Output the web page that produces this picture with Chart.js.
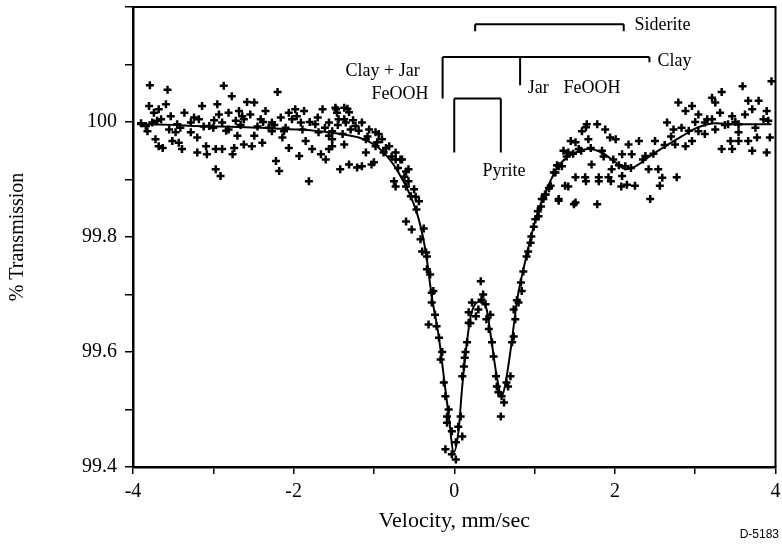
<!DOCTYPE html>
<html>
<head>
<meta charset="utf-8">
<script src="https://cdn.jsdelivr.net/npm/chart.js@4.4.0/dist/chart.umd.min.js"></script>
<style>
  html, body { margin: 0; padding: 0; background: #fff; }
</style>
</head>
<body>
<canvas id="spectrum" width="782" height="545"></canvas>
<script>
// measured spectrum (velocity mm/s, % transmission)
const scatterVel = [
  -3.79, -3.57, -2.87, -2.77, -2.20, -3.80, -3.59, -3.68, -3.74, -3.36, -3.14, -2.95, -2.93, -2.81, -2.68, -2.58,
  -2.49, -2.64, -2.54, -2.35, -2.06, -1.98, -1.87, -1.64, -1.48, -1.33, -1.46, -1.37, -3.84, -3.76, -3.65, -3.53,
  -3.45, -3.28, -3.18, -3.05, -2.89, -2.72, -2.62, -2.41, -2.27, -2.16, -2.02, -1.91, -1.73, -1.56, -1.29, -3.82,
  -3.72, -3.63, -3.68, -3.51, -3.43, -3.39, -3.47, -3.28, -3.20, -3.20, -3.09, -3.08, -2.97, -2.89, -2.74, -2.76,
  -2.70, -2.62, -2.52, -2.39, -2.49, -2.27, -2.14, -2.06, -2.12, -1.85, -1.93, -1.77, -1.66, -1.60, -1.52, -1.56,
  -1.37, -2.22, -2.18, -2.97, -2.91, -1.81, -1.42, -1.31, -1.21, -3.55, -3.00, -2.81, -2.31, -1.89, -1.69, -1.52,
  -1.39, -1.47, -1.37, -1.31, -1.44, -1.35, -1.23, -1.15, -1.06, -0.98, -0.90, -0.81, -0.73, -0.65, -1.15, -0.57,
  -1.52, -1.56, -0.94, -1.10, -1.10, -0.98, -0.88, -0.78, -0.73, -0.67, -1.00, -0.75, -0.73, -0.60, -0.57, -0.50,
  -0.54, -0.44, -0.47, -0.60, -0.53, -0.42, -0.40, -0.34, -0.34, -0.26, -0.28, -0.32, -0.22, -0.19, -0.17, -0.13,
  -0.11, -0.09, -0.09, -0.03, -0.11, 0.02, 0.10, 0.02, -0.03, 0.08, 0.10, 0.12, 0.14, 0.16, 0.18, 0.18,
  0.22, 0.27, 0.30, 0.33, 0.34, 0.40, 0.39, 0.45, 0.47, 0.49, 0.52, 0.53, 0.59, 0.62, 0.58, 0.65,
  0.70, 0.72, 0.74, 0.76, 0.74, 0.80, 0.84, 0.83, 0.86, 0.90, 0.95, 0.96, 0.99, 1.01, 1.08, 1.11,
  1.14, -1.03, -0.60, -0.35, -0.28, 1.26, 1.30, 1.51, 1.64, 1.80, 1.95, 2.08, 1.42, 1.05, 1.64, 1.42,
  1.34, 1.51, 1.09, 1.13, 1.20, 1.24, 1.30, 1.36, 1.45, 1.55, 1.59, 1.65, 1.78, 1.67, 1.88, 1.94,
  2.01, 1.30, 1.49, 1.78, 1.38, 1.51, 1.63, 1.80, 1.92, 1.71, 1.84, 1.96, 2.09, 2.13, 2.15, 2.25,
  2.30, 2.38, 2.50, 2.42, 2.54, 2.59, 2.56, 2.44, 2.77, 2.65, 2.73, 2.83, 2.75, 2.88, 2.96, 2.79,
  2.88, 2.96, 3.04, 3.12, 3.21, 3.31, 3.21, 3.33, 3.25, 3.04, 3.12, 3.25, 3.41, 3.54, 3.62, 3.71,
  3.79, 3.66, 3.59, 3.89, 3.91, 3.46, 3.54, 3.33, 3.44, 3.46, 3.54, 3.66, 3.71, 3.77, 3.89, 3.93,
  3.95, 2.17, 2.09, 2.21,
  -3.90, -3.70, -3.41, -3.24, -3.12, -2.99, -2.84, -2.66, -2.45, -2.38, -2.24, -2.10, -1.96, -1.80, -1.70, -1.61,
  -1.45, -1.26, -1.19, -1.08, -0.96, -0.85, -0.70, -0.62, -0.48, -0.38, -0.30, -0.24, -0.15, -0.07, 0.05, 0.13,
  0.20, 0.36, 0.43, 0.55, 0.67, 0.78, 0.92, 1.04, 1.18, 1.28, 1.40, 1.48, 1.58, 1.70, 1.86, 1.98,
  2.05, 2.20, 2.35, 2.48, 2.62, 2.70, 2.92, 3.00, 3.15, 3.37, 3.50, 3.75, 3.85
];
const scatterTrans = [
  100.064, 100.056, 100.063, 100.045, 100.052, 100.028, 100.031, 100.022, 100.016, 100.016, 100.028, 100.031, 100.013, 100.016, 100.019, 100.035,
  100.034, 100.010, 100.013, 100.019, 100.016, 100.022, 100.019, 100.022, 100.025, 100.023, 100.016, 100.005, 99.993, 99.999, 100.005, 100.010,
  99.996, 99.999, 100.005, 99.993, 99.999, 100.002, 100.005, 100.005, 99.999, 100.008, 100.005, 99.999, 99.996, 99.999, 99.987, 99.984,
  99.970, 99.955, 99.958, 99.967, 99.964, 99.953, 99.982, 99.982, 99.973, 99.947, 99.958, 99.944, 99.953, 99.953, 99.955, 99.944,
  99.976, 99.961, 99.958, 99.964, 99.976, 99.984, 99.973, 99.955, 99.984, 99.967, 99.941, 99.953, 99.944, 99.935, 99.958, 99.976,
  99.961, 99.932, 99.915, 99.918, 99.906, 99.897, 99.918, 99.926, 99.921, 99.987, 99.990, 99.987, 99.990, 99.987, 99.982, 99.984,
  99.979, 100.022, 100.025, 100.017, 100.005, 99.999, 99.993, 99.999, 99.987, 99.982, 99.970, 99.958, 99.947, 99.935, 99.923, 99.918,
  99.970, 99.953, 99.979, 99.970, 99.947, 99.958, 99.947, 99.940, 99.935, 99.935, 99.930, 99.897, 99.888, 99.914, 99.897, 99.883,
  99.871, 99.862, 99.848, 99.827, 99.813, 99.796, 99.775, 99.766, 99.744, 99.706, 99.686, 99.648, 99.645, 99.625, 99.587, 99.547,
  99.523, 99.488, 99.477, 99.462, 99.431, 99.443, 99.453, 99.413, 99.422, 99.488, 99.558, 99.575, 99.600, 99.617, 99.651, 99.669,
  99.686, 99.662, 99.674, 99.723, 99.691, 99.657, 99.683, 99.665, 99.617, 99.592, 99.558, 99.540, 99.523, 99.512, 99.488, 99.547,
  99.558, 99.617, 99.627, 99.657, 99.674, 99.686, 99.706, 99.721, 99.740, 99.766, 99.790, 99.801, 99.818, 99.831, 99.853, 99.866,
  99.874, 99.926, 99.888, 99.773, 99.703, 99.912, 99.866, 99.860, 99.897, 99.897, 99.897, 99.888, 99.888, 99.836, 99.991, 99.947,
  99.923, 99.965, 99.866, 99.874, 99.889, 99.912, 99.923, 99.950, 99.967, 99.953, 99.984, 99.996, 99.996, 99.970, 99.987, 99.973,
  99.970, 99.863, 99.857, 99.857, 99.889, 99.904, 99.904, 99.904, 99.904, 99.926, 99.950, 99.918, 99.906, 99.923, 99.891, 99.889,
  99.967, 99.941, 99.967, 99.918, 99.918, 99.903, 99.889, 99.866, 99.904, 99.999, 99.987, 99.990, 99.961, 99.958, 99.967, 100.034,
  100.019, 100.028, 100.013, 99.999, 100.005, 100.016, 100.042, 100.052, 100.034, 99.984, 99.979, 99.987, 99.996, 99.996, 100.013, 100.022,
  100.037, 100.037, 100.062, 100.019, 100.002, 100.010, 99.982, 99.953, 99.967, 99.953, 99.967, 99.967, 99.950, 99.973, 99.947, 99.973,
  100.071, 99.961, 99.944, 99.944,
  99.998, 100.002, 99.990, 100.008, 99.992, 100.003, 99.985, 99.995, 99.992, 100.000, 99.995, 99.990, 100.010, 100.000, 100.008, 99.990,
  99.995, 100.003, 99.985, 99.975, 99.965, 99.955, 99.920, 99.905, 99.870, 99.815, 99.735, 99.665, 99.600, 99.500, 99.470, 99.590,
  99.650, 99.700, 99.640, 99.530, 99.540, 99.690, 99.775, 99.845, 99.885, 99.925, 99.940, 99.945, 99.950, 99.955, 99.940, 99.935,
  99.925, 99.920, 99.935, 99.945, 99.960, 99.975, 99.985, 100.000, 100.005, 99.995, 100.000, 99.990, 100.005
];

// least-squares fit curve
const fitVel = [
  -3.95, -3.86, -3.50, -3.215, -2.90, -2.593, -2.30, -1.971, -1.75, -1.561, -1.40, -1.188, -1.00, -0.88, -0.777, -0.67,
  -0.566, -0.442, -0.354, -0.280, -0.193, -0.131, -0.068, -0.006, 0.056, 0.093, 0.143, 0.205, 0.280, 0.342, 0.404, 0.466,
  0.529, 0.591, 0.653, 0.715, 0.778, 0.889, 1.014, 1.15, 1.25, 1.337, 1.511, 1.673, 1.835, 2.009, 2.133, 2.257,
  2.419, 2.631, 2.830, 3.041, 3.253, 3.539, 3.95
];
const fitTrans = [
  99.996, 99.996, 99.995, 99.993, 99.992, 99.991, 99.989, 99.987, 99.985, 99.982, 99.979, 99.973, 99.961, 99.947, 99.930, 99.906,
  99.878, 99.831, 99.773, 99.697, 99.627, 99.558, 99.488, 99.426, 99.466, 99.530, 99.600, 99.662, 99.686, 99.688, 99.674, 99.617,
  99.558, 99.523, 99.558, 99.617, 99.686, 99.761, 99.831, 99.882, 99.912, 99.930, 99.947, 99.953, 99.947, 99.930, 99.918, 99.923,
  99.939, 99.958, 99.975, 99.991, 99.998, 99.996, 99.996
];

// y tick labels shown (every other minor tick)
const yLabels = ['99.4', '99.6', '99.8', '100'];
const xLabels = ['-4', '-2', '0', '2', '4'];

// peak-position brackets (mm/s) and their heights (% transmission)
const sideriteLines = [0.26, 2.11];
const sideriteLevel = [100.170, 100.158];
const clayLines = [-0.145, 0.82, 2.43];
const clayLevel = [100.113, 100.041, 100.064, 100.104];
const pyriteLines = [0.0, 0.58];
const pyriteLevel = [100.041, 99.947];

const noteText = ['Siderite', 'Clay', 'Clay + Jar', 'FeOOH', 'Jar', 'FeOOH', 'Pyrite'];
const noteVel = [2.245, 2.53, -0.43, -0.32, 0.914, 1.36, 0.62];
const noteTrans = [100.168, 100.106, 100.088, 100.048, 100.058, 100.058, 99.914];
const noteAlign = ['left', 'left', 'right', 'right', 'left', 'left', 'center'];

const serif = 'Liberation Serif, Times New Roman, serif';

const annotate = {
  id: 'annotate',
  afterDatasetsDraw(chart) {
    const { ctx, chartArea, scales: { x, y } } = chart;
    ctx.save();
    ctx.strokeStyle = '#000';
    ctx.fillStyle = '#000';

    // top and right frame
    ctx.lineWidth = 2;
    ctx.beginPath();
    ctx.moveTo(chartArea.left, chartArea.top);
    ctx.lineTo(chartArea.right, chartArea.top);
    ctx.lineTo(chartArea.right, chartArea.bottom);
    ctx.stroke();

    function bracket(lines, top, drops) {
      const yt = y.getPixelForValue(top);
      ctx.beginPath();
      ctx.moveTo(x.getPixelForValue(lines[0]), yt);
      ctx.lineTo(x.getPixelForValue(lines[lines.length - 1]), yt);
      lines.forEach((v, i) => {
        const px = x.getPixelForValue(v);
        ctx.moveTo(px, yt);
        ctx.lineTo(px, y.getPixelForValue(drops[i]));
      });
      ctx.stroke();
    }
    ctx.lineWidth = 2;
    bracket(sideriteLines, sideriteLevel[0], [sideriteLevel[1], sideriteLevel[1]]);
    bracket(clayLines, clayLevel[0], clayLevel.slice(1));
    bracket(pyriteLines, pyriteLevel[0], [pyriteLevel[1], pyriteLevel[1]]);

    ctx.font = '18px ' + serif;
    ctx.textBaseline = 'middle';
    noteText.forEach((t, i) => {
      ctx.textAlign = noteAlign[i];
      ctx.fillText(t, x.getPixelForValue(noteVel[i]), y.getPixelForValue(noteTrans[i]));
    });

    ctx.font = '12px Liberation Sans, Arial, sans-serif';
    ctx.textAlign = 'right';
    ctx.fillText('D-5183', 779, 535);
    ctx.restore();
  }
};

const ctx = document.getElementById('spectrum').getContext('2d');

new Chart(ctx, {
  type: 'scatter',
  data: {
    datasets: [
      {
        type: 'line',
        data: fitVel.map((v, i) => ({ x: v, y: fitTrans[i] })),
        borderColor: '#000',
        borderWidth: 2,
        pointRadius: 0,
        cubicInterpolationMode: 'monotone',
        fill: false
      },
      {
        data: scatterVel.map((v, i) => ({ x: v, y: scatterTrans[i] })),
        pointStyle: 'cross',
        pointRadius: 4,
        borderWidth: 2.5,
        borderColor: '#000',
        backgroundColor: '#000'
      }
    ]
  },
  options: {
    responsive: false,
    animation: false,
    layout: { padding: { top: 7, right: 6, left: 0, bottom: 0 } },
    plugins: { legend: { display: false }, tooltip: { enabled: false } },
    scales: {
      x: {
        type: 'linear',
        min: -4,
        max: 4,
        afterFit: s => {
          s.height = 78;
          s.paddingLeft = 0;
          s.paddingRight = 0;
        },
        ticks: {
          stepSize: 1,
          autoSkip: false,
          maxRotation: 0,
          padding: 6,
          color: '#000',
          font: { family: serif, size: 20 },
          callback: v => {
            const k = Math.round(v);
            return k % 2 === 0 ? xLabels[(k + 4) / 2] : '';
          }
        },
        grid: { drawOnChartArea: false, drawTicks: true, tickLength: 7, color: '#000', lineWidth: 1.5 },
        border: { color: '#000', width: 2.5 },
        title: {
          display: true,
          text: 'Velocity, mm/sec',
          color: '#000',
          font: { family: serif, size: 22 },
          padding: { top: 0, bottom: 11 }
        }
      },
      y: {
        min: 99.4,
        max: 100.2,
        afterFit: s => {
          s.width = 133;
          s.paddingTop = 0;
          s.paddingBottom = 0;
        },
        ticks: {
          stepSize: 0.1,
          autoSkip: false,
          padding: 8,
          color: '#000',
          font: { family: serif, size: 20 },
          callback: v => {
            const k = Math.round(v * 10) - 994;
            return k % 2 === 0 && k < 8 ? yLabels[k / 2] : '';
          }
        },
        grid: { drawOnChartArea: false, drawTicks: true, tickLength: 8, color: '#000', lineWidth: 1.5 },
        border: { color: '#000', width: 2.5 },
        title: {
          display: true,
          text: '% Transmission',
          color: '#000',
          font: { family: serif, size: 20 },
          padding: { top: 6, bottom: 0 }
        }
      }
    }
  },
  plugins: [annotate]
});
</script>
</body>
</html>
